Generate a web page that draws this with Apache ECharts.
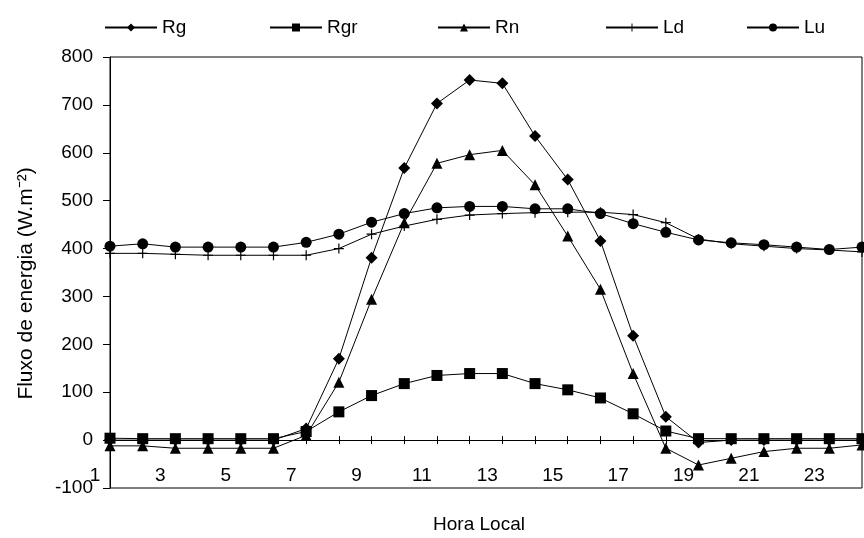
<!DOCTYPE html>
<html>
<head>
<meta charset="utf-8">
<script src="https://cdn.jsdelivr.net/npm/echarts@6/dist/echarts.min.js"></script>
<style>
html, body { margin: 0; padding: 0; background: #fff; }
#chart { width: 864px; height: 538px; }
</style>
</head>
<body>
<div id="chart"></div>
<script>
// hora local 1..24
var horas = ['1','2','3','4','5','6','7','8','9','10','11','12','13','14','15','16','17','18','19','20','21','22','23','24'];

// fluxos de energia (W.m-2)
var rg  = [0, 0, 0, 0, 0, 0, 24, 170, 381, 568, 703, 752, 745, 635, 544, 416, 218, 49, -5, 0, 0, 0, 0, 0];
var rgr = [4, 3, 3, 3, 3, 3, 18, 59, 93, 118, 135, 139, 139, 118, 105, 88, 55, 19, 3, 3, 3, 3, 3, 3];
var rn  = [-12, -12, -17, -17, -17, -17, 10, 121, 294, 454, 578, 596, 605, 533, 426, 315, 139, -17, -52, -38, -24, -17, -17, -10];
var ld  = [390, 390, 388, 386, 386, 386, 386, 400, 430, 447, 461, 470, 473, 475, 476, 476, 471, 454, 420, 410, 405, 400, 397, 393];
var lu  = [405, 410, 403, 403, 403, 403, 413, 430, 455, 473, 485, 488, 488, 483, 483, 473, 452, 434, 418, 412, 408, 403, 398, 403];

var nomes = ['Rg', 'Rgr', 'Rn', 'Ld', 'Lu'];
var legendLeft = [99, 264, 432, 600, 741];

var font = 'Liberation Sans, Arial, sans-serif';
var plus = 'path://M0,4.4H10V5.6H0Z M4.4,0H5.6V10H4.4Z';

function serie(name, data, symbol, size) {
  return {
    name: name,
    type: 'line',
    data: data,
    symbol: symbol,
    symbolSize: size,
    showAllSymbol: true,
    lineStyle: { color: '#000', width: 1 },
    itemStyle: { color: '#000' },
    emphasis: { disabled: true },
    animation: false
  };
}

var legends = [];
for (var i = 0; i < nomes.length; i++) {
  legends.push({
    data: [nomes[i]],
    left: legendLeft[i],
    top: 13,
    itemWidth: 52,
    itemHeight: 10,
    textStyle: { color: '#000', fontFamily: font, fontSize: 19 }
  });
}

var chart = echarts.init(document.getElementById('chart'));
chart.setOption({
  backgroundColor: '#fff',
  animation: false,
  legend: legends,
  grid: {
    left: 110, right: 2, top: 57, bottom: 50,
    outerBoundsMode: 'none',
    containLabel: false,
    show: true, borderColor: '#000', borderWidth: 1
  },
  xAxis: [
    {
      // eixo das series (oculto)
      type: 'category',
      data: horas,
      boundaryGap: false,
      show: false
    },
    {
      // linha em zero, marcas para fora
      type: 'category',
      data: horas,
      boundaryGap: false,
      position: 'bottom',
      axisLine: { onZero: true, onZeroAxisIndex: 0, lineStyle: { color: '#000', width: 1 } },
      axisTick: { show: true, interval: 0, length: 4, lineStyle: { color: '#000' } },
      axisLabel: { show: false },
      splitLine: { show: false }
    },
    {
      // marcas para dentro
      type: 'category',
      data: horas,
      boundaryGap: false,
      position: 'bottom',
      axisLine: { show: false, onZero: true, onZeroAxisIndex: 0 },
      axisTick: { show: true, inside: true, interval: 0, length: 4, lineStyle: { color: '#000' } },
      axisLabel: { show: false },
      splitLine: { show: false }
    },
    {
      // rotulos na base do grafico
      type: 'category',
      data: horas,
      boundaryGap: false,
      position: 'bottom',
      axisLine: { show: false, onZero: false },
      axisTick: { show: false },
      axisLabel: {
        inside: true, interval: 1, margin: 3, color: '#000', fontFamily: font, fontSize: 19,
        padding: [0, 30, 0, 0]
      },
      splitLine: { show: false },
      name: 'Hora Local',
      nameLocation: 'middle',
      nameGap: 27,
      nameTextStyle: { color: '#000', fontFamily: font, fontSize: 19, padding: [0, 14, 0, 0] }
    }
  ],
  yAxis: {
    type: 'value',
    min: -100, max: 800, interval: 100,
    axisLine: { show: true, lineStyle: { color: '#000', width: 1 } },
    axisTick: { show: true, length: 7, lineStyle: { color: '#000' } },
    axisLabel: { margin: 17, color: '#000', fontFamily: font, fontSize: 19 },
    splitLine: { show: false },
    name: 'Fluxo de energia (W.m⁻²)',
    nameLocation: 'middle',
    nameGap: 73,
    nameTextStyle: { color: '#000', fontFamily: font, fontSize: 21, padding: [0, 22, 0, 0] }
  },
  series: [
    serie('Rg', rg, 'diamond', 12),
    serie('Rgr', rgr, 'rect', 11),
    serie('Rn', rn, 'triangle', 11),
    serie('Ld', ld, plus, 10),
    serie('Lu', lu, 'circle', 11)
  ]
});
</script>
</body>
</html>
